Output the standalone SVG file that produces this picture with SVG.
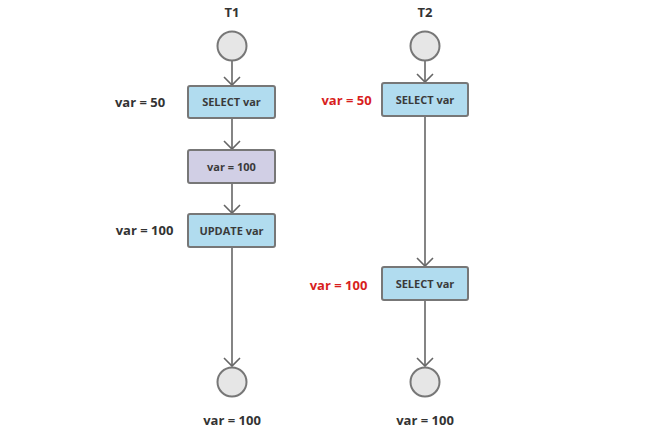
<svg xmlns="http://www.w3.org/2000/svg" width="645" height="435" viewBox="0 0 645 435">
<style>
.t{font-family:"Open Sans","Liberation Sans",sans-serif;font-weight:bold;fill:#333;text-anchor:middle}
.lbl{font-size:13px}
.red{fill:#d81e1e}
.box{font-size:11px;font-weight:bold;fill:#3a3a3a}
.circ{fill:#e6e6e6;stroke:#777;stroke-width:2}
.blue{fill:#b1dcef;stroke:#777;stroke-width:2}
.purple{fill:#d1cfe5;stroke:#777;stroke-width:2}
.c{stroke:#666;stroke-width:1.6;fill:none;marker-end:url(#ah)}
</style>
<defs>
<marker id="ah" markerUnits="userSpaceOnUse" markerWidth="20" markerHeight="20" refX="10" refY="10" orient="auto" viewBox="0 0 20 20">
<path d="M2,2 L10,10 L2,18" fill="none" stroke="#666" stroke-width="1.6"/>
</marker>
</defs>
<rect width="645" height="435" fill="#fff"/>
<text class="t lbl" x="232" y="17">T1</text>
<text class="t lbl" x="425" y="17">T2</text>
<g id="connectors">
<line class="c" x1="232" y1="61" x2="232" y2="85"/>
<line class="c" x1="232" y1="118" x2="232" y2="149"/>
<line class="c" x1="232" y1="183" x2="232" y2="213"/>
<line class="c" x1="232" y1="247" x2="232" y2="366"/>
<line class="c" x1="425" y1="61" x2="425" y2="82"/>
<line class="c" x1="425" y1="116" x2="425" y2="266"/>
<line class="c" x1="425" y1="300" x2="425" y2="366"/>
</g>
<g id="t1-start"><circle class="circ" cx="232" cy="46" r="14.5"/></g>
<g id="t1-select">
<rect class="blue" x="188" y="86" width="87" height="32" rx="2"/>
<text class="t box" x="231.5" y="106">SELECT var</text>
<text class="t lbl" x="140" y="107">var = 50</text>
</g>
<g id="t1-assign">
<rect class="purple" x="188" y="150" width="87" height="33" rx="2"/>
<text class="t box" x="231.5" y="170.5">var = 100</text>
</g>
<g id="t1-update">
<rect class="blue" x="188" y="214" width="87" height="33" rx="2"/>
<text class="t box" x="231.5" y="234.5">UPDATE var</text>
<text class="t lbl" x="144.5" y="235">var = 100</text>
</g>
<g id="t1-end">
<circle class="circ" cx="232" cy="382" r="14.5"/>
<text class="t lbl" x="232" y="425">var = 100</text>
</g>
<g id="t2-start"><circle class="circ" cx="425" cy="46" r="14.5"/></g>
<g id="t2-select1">
<rect class="blue" x="382" y="83" width="86" height="33" rx="2"/>
<text class="t box" x="425" y="103.5">SELECT var</text>
<text class="t lbl red" x="346.5" y="105">var = 50</text>
</g>
<g id="t2-select2">
<rect class="blue" x="382" y="267" width="86" height="33" rx="2"/>
<text class="t box" x="425" y="287.5">SELECT var</text>
<text class="t lbl red" x="338.5" y="290">var = 100</text>
</g>
<g id="t2-end">
<circle class="circ" cx="425" cy="382" r="14.5"/>
<text class="t lbl" x="425" y="425">var = 100</text>
</g>
</svg>
